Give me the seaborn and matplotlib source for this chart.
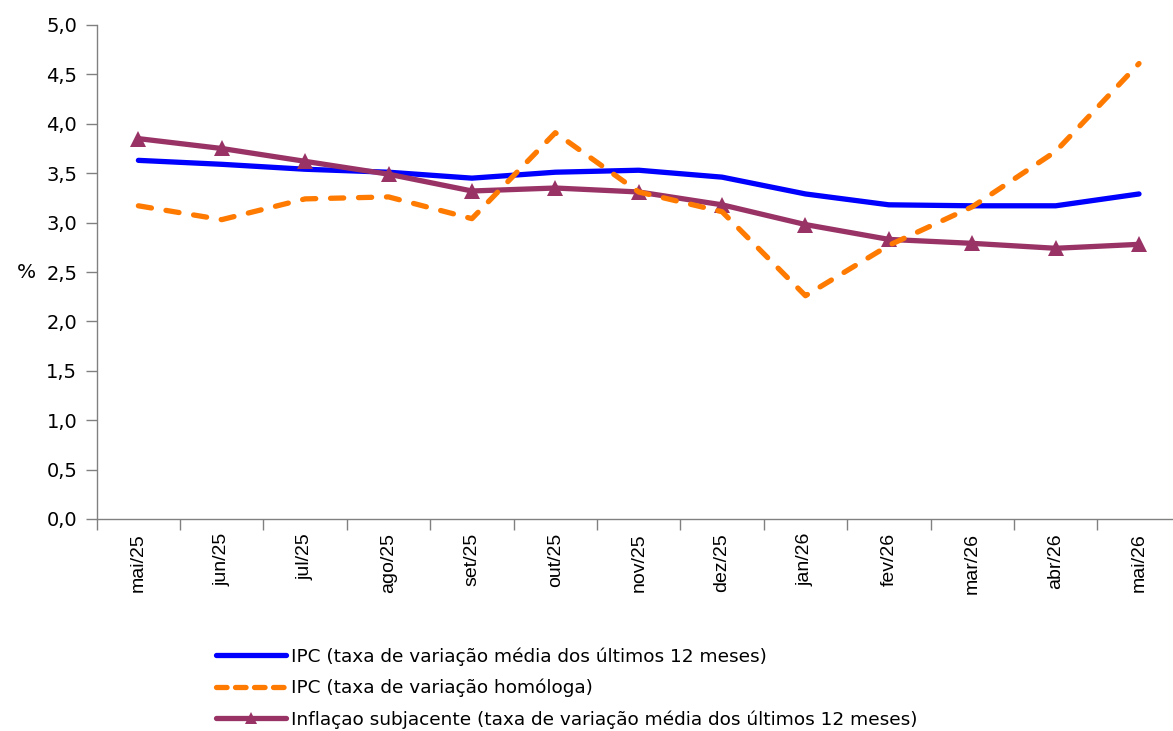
import matplotlib
matplotlib.use("Agg")
import matplotlib.pyplot as plt
import seaborn as sns
import pandas as pd
from matplotlib.lines import Line2D
from matplotlib.ticker import FixedLocator, FuncFormatter

months = ["mai/25", "jun/25", "jul/25", "ago/25", "set/25", "out/25", "nov/25",
          "dez/25", "jan/26", "fev/26", "mar/26", "abr/26", "mai/26"]
ipc_media = [3.63, 3.59, 3.54, 3.51, 3.45, 3.51, 3.53, 3.46, 3.29, 3.18, 3.17, 3.17, 3.29]
ipc_homologa = [3.17, 3.03, 3.24, 3.26, 3.04, 3.91, 3.31, 3.11, 2.26, 2.77, 3.16, 3.72, 4.61]
subjacente = [3.85, 3.75, 3.62, 3.49, 3.32, 3.35, 3.31, 3.18, 2.98, 2.83, 2.79, 2.74, 2.78]

labels = ["IPC (taxa de variação média dos últimos 12 meses)",
          "IPC (taxa de variação homóloga)",
          "Inflaçao subjacente (taxa de variação média dos últimos 12 meses)"]
colors = ["#0000FF", "#FF7A00", "#993366"]

sns.set_style("white")
plt.rcParams["font.family"] = ["DejaVu Sans"]
plt.rcParams["text.color"] = "black"
plt.rcParams["axes.labelcolor"] = "black"
plt.rcParams["xtick.color"] = "black"
plt.rcParams["ytick.color"] = "black"

df = pd.DataFrame({"mes": months, "media": ipc_media, "homologa": ipc_homologa, "subj": subjacente})

fig = plt.figure(figsize=(11.73, 7.31), dpi=100)
ax = fig.add_axes([96.7 / 1173, 212 / 731, 1084 / 1173, 494 / 731])

sns.lineplot(data=df, x="mes", y="media", ax=ax, color=colors[0], linewidth=3.8,
             solid_capstyle="round", zorder=2, sort=False)
sns.lineplot(data=df, x="mes", y="subj", ax=ax, color=colors[2], linewidth=3.8,
             marker="^", markersize=11, markeredgewidth=0, zorder=3, sort=False)
sns.lineplot(data=df, x="mes", y="homologa", ax=ax, color=colors[1], linewidth=3.8,
             linestyle=(0, (2.5, 2.8)), dash_capstyle="round", zorder=4, sort=False)

n = len(months)
ax.set_xlim(-0.5, n - 0.5)
ax.set_ylim(0, 5)
ax.set_xlabel("")
ax.set_ylabel("%", rotation=0, fontsize=14.5, labelpad=14, va="center", color="black")

# Category ticks at boundaries, labels at centres
ax.xaxis.set_major_locator(FixedLocator([i - 0.5 for i in range(n + 1)]))
ax.xaxis.set_major_formatter(FuncFormatter(lambda v, p: ""))
ax.set_xticks(list(range(n)), minor=True)
ax.set_xticklabels(months, minor=True, rotation=90, fontsize=14,
                   fontfamily=["Liberation Sans", "DejaVu Sans"], color="black")
ax.tick_params(axis="x", which="major", direction="out", length=8, width=1, color="#808080", bottom=True)
ax.tick_params(axis="x", which="minor", length=0, pad=10, labelcolor="black")

yt = [i * 0.5 for i in range(11)]
ax.set_yticks(yt)
ax.set_yticklabels([f"{v:.1f}".replace(".", ",") for v in yt], fontsize=14, color="black")
ax.tick_params(axis="y", direction="out", length=8, width=1, color="#808080", left=True, pad=6,
               labelcolor="black")

for s in ["top", "right"]:
    ax.spines[s].set_visible(False)
for s in ["left", "bottom"]:
    ax.spines[s].set_color("#808080")
    ax.spines[s].set_linewidth(1.0)

handles = [
    Line2D([], [], color=colors[0], linewidth=3.8, solid_capstyle="round"),
    Line2D([], [], color=colors[1], linewidth=3.8, linestyle=(0, (2.0, 1.6)), dash_capstyle="round"),
    Line2D([], [], color=colors[2], linewidth=3.8, marker="^", markersize=9, markeredgewidth=0,
           solid_capstyle="round"),
]
leg = fig.legend(handles, labels, loc="upper left", bbox_to_anchor=(216 / 1173, 1 - 647 / 731),
                 frameon=False, fontsize=13.3, handlelength=3.8, handletextpad=0.28,
                 labelspacing=0.71, borderpad=0, borderaxespad=0)
for t in leg.get_texts():
    t.set_color("black")

fig.savefig("out.png", dpi=100)
